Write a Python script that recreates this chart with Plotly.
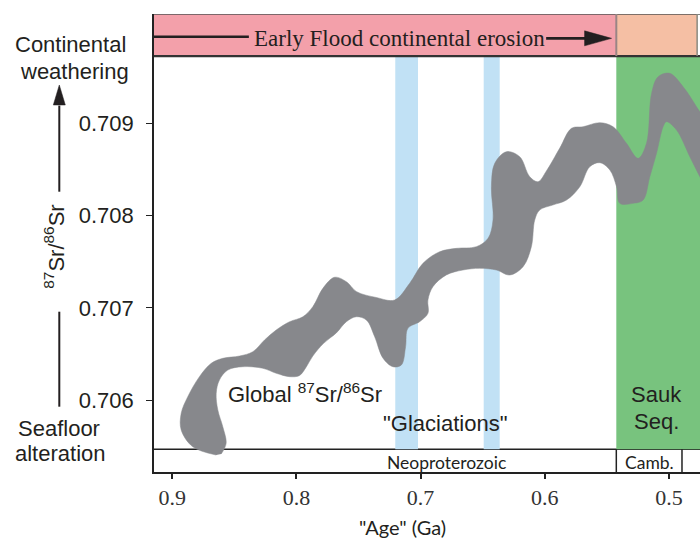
import plotly.graph_objects as go

# ---- data ----
# outline of the grey global 87Sr/86Sr band: upper edge (old -> young)
edge_upper_age = [0.8646, 0.8835, 0.8928, 0.8928, 0.8875, 0.8781, 0.8686, 0.8593, 0.8458, 0.8351,
                  0.8257, 0.8163, 0.8055, 0.7948, 0.7868, 0.7787, 0.7693, 0.7598, 0.7515, 0.7357,
                  0.7209, 0.7088, 0.6981, 0.6847, 0.6712, 0.6551, 0.6457, 0.6417, 0.6430, 0.6403,
                  0.6309, 0.6202, 0.6121, 0.6054, 0.5987, 0.5879, 0.5785, 0.5692, 0.5557, 0.5450,
                  0.5342, 0.5248, 0.5181, 0.5140, 0.5087, 0.4993, 0.4886, 0.4778, 0.4671]
edge_upper_sr = [0.705403, 0.705493, 0.705675, 0.705856, 0.706036, 0.706253, 0.706398, 0.706452, 0.706477, 0.706524,
                 0.706651, 0.706759, 0.706849, 0.706903, 0.707012, 0.707211, 0.707331, 0.707283, 0.707175, 0.707112,
                 0.707085, 0.707266, 0.707483, 0.707608, 0.707645, 0.707663, 0.707754, 0.707952, 0.708313, 0.708567,
                 0.708693, 0.708639, 0.708422, 0.708368, 0.708484, 0.708733, 0.708947, 0.708964, 0.709008, 0.708964,
                 0.708784, 0.708621, 0.708784, 0.709326, 0.709507, 0.709543, 0.709398, 0.709181, 0.708928]
# lower edge (young -> old)
edge_lower_age = [0.4671, 0.4751, 0.4832, 0.4939, 0.5020, 0.5047, 0.5100, 0.5154, 0.5208, 0.5289,
                  0.5396, 0.5422, 0.5476, 0.5557, 0.5638, 0.5718, 0.5825, 0.5936, 0.6041, 0.6081,
                  0.6108, 0.6175, 0.6282, 0.6390, 0.6524, 0.6659, 0.6793, 0.6901, 0.6941, 0.6941,
                  0.7008, 0.7102, 0.7121, 0.7155, 0.7223, 0.7304, 0.7370, 0.7437, 0.7518, 0.7598,
                  0.7679, 0.7781, 0.7868, 0.7921, 0.7975, 0.8055, 0.8163, 0.8271, 0.8432, 0.8553,
                  0.8620, 0.8646, 0.8633, 0.8593, 0.8566, 0.8606]
edge_lower_sr = [0.708223, 0.708422, 0.708639, 0.708928, 0.709018, 0.708964, 0.708676, 0.708422, 0.708169, 0.708133,
                 0.708133, 0.708313, 0.708495, 0.708574, 0.708530, 0.708313, 0.708169, 0.708115, 0.708061, 0.707952,
                 0.707663, 0.707446, 0.707356, 0.707410, 0.707428, 0.707410, 0.707356, 0.707229, 0.707085, 0.706940,
                 0.706849, 0.706778, 0.706578, 0.706380, 0.706361, 0.706456, 0.706687, 0.706868, 0.706903, 0.706849,
                 0.706727, 0.706615, 0.706477, 0.706358, 0.706266, 0.706253, 0.706290, 0.706344, 0.706361, 0.706325,
                 0.706217, 0.706073, 0.705892, 0.705710, 0.705530, 0.705414]

glaciations = [(0.7204, 0.7021), (0.6492, 0.6363)]   # Ga intervals
sauk_start = 0.5424
camb_end = 0.4895
orange_end = 0.4773

x_ticks = [0.9, 0.8, 0.7, 0.6, 0.5]
x_tick_labels = ["0.9", "0.8", "0.7", "0.6", "0.5"]
y_ticks = [0.706, 0.707, 0.708, 0.709]
y_tick_labels = ["0.706", "0.707", "0.708", "0.709"]

# ---- layout constants ----
X_RANGE = [0.9147, 0.4750]
Y_RANGE = [0.705219, 0.710187]
Y_TOPBAND = 0.709731
Y_BOTBAND = 0.705465

GREY = "#87888c"
PINK = "#f3a0aa"
ORANGE = "#f5bfa4"
GREEN = "#78c37e"
BLUE = "#c1e1f5"
DARK = "#231f20"

fig = go.Figure()
fig.add_trace(go.Scatter(
    x=edge_upper_age + edge_lower_age,
    y=edge_upper_sr + edge_lower_sr,
    fill="toself", fillcolor=GREY, mode="lines",
    line=dict(color=GREY, width=0.5, shape="spline", smoothing=1),
    hoverinfo="skip", showlegend=False))

shapes = []
for a0, a1 in glaciations:
    shapes.append(dict(type="rect", xref="x", yref="y", x0=a0, x1=a1, y0=Y_BOTBAND, y1=Y_TOPBAND,
                       fillcolor=BLUE, line=dict(width=0), layer="below"))
shapes.append(dict(type="rect", xref="x", yref="y", x0=sauk_start, x1=0.40, y0=Y_BOTBAND, y1=Y_TOPBAND,
                   fillcolor=GREEN, line=dict(width=0), layer="below"))
# top band
shapes.append(dict(type="rect", xref="x", yref="y", x0=0.95, x1=sauk_start, y0=Y_TOPBAND, y1=Y_RANGE[1],
                   fillcolor=PINK, line=dict(width=0), layer="below"))
shapes.append(dict(type="rect", xref="x", yref="y", x0=sauk_start, x1=orange_end, y0=Y_TOPBAND, y1=Y_RANGE[1],
                   fillcolor=ORANGE, line=dict(width=0), layer="below"))
shapes.append(dict(type="line", xref="paper", yref="y", x0=0, x1=1, y0=Y_RANGE[1], y1=Y_RANGE[1],
                   line=dict(color="#555555", width=1.5)))
shapes.append(dict(type="line", xref="paper", yref="y", x0=0, x1=1, y0=Y_TOPBAND, y1=Y_TOPBAND,
                   line=dict(color="#333333", width=2.2)))
shapes.append(dict(type="line", xref="x", yref="y", x0=sauk_start, x1=sauk_start, y0=Y_TOPBAND, y1=Y_RANGE[1],
                   line=dict(color="#9a8585", width=2)))
shapes.append(dict(type="line", xref="x", yref="y", x0=orange_end, x1=orange_end, y0=Y_TOPBAND, y1=Y_RANGE[1],
                   line=dict(color="#8a8a80", width=1.5)))
# bottom band
shapes.append(dict(type="line", xref="paper", yref="y", x0=0, x1=1, y0=Y_BOTBAND, y1=Y_BOTBAND,
                   line=dict(color="#222222", width=1.5), layer="below"))
for xv in (sauk_start, camb_end):
    shapes.append(dict(type="line", xref="x", yref="y", x0=xv, x1=xv, y0=Y_RANGE[0], y1=Y_BOTBAND,
                       line=dict(color="#222222", width=1.5)))
# arrow in top band
Y_ARROW = 0.709940
shapes.append(dict(type="line", xref="x", yref="y", x0=0.92, x1=0.8383, y0=Y_ARROW, y1=Y_ARROW,
                   line=dict(color=DARK, width=2.6)))
shapes.append(dict(type="line", xref="x", yref="y", x0=0.5989, x1=0.566, y0=0.709923, y1=0.709923,
                   line=dict(color=DARK, width=2.6)))
shapes.append(dict(type="path", xref="x", yref="y", xsizemode="pixel", ysizemode="pixel",
                   xanchor=0.5462, yanchor=0.709923, path="M0,0 L-27,7.5 L-27,-7.5 Z",
                   fillcolor=DARK, line=dict(color=DARK, width=0.5)))
# left side arrow and line
AX = (59.3 - 154) / 546
shapes.append(dict(type="line", xref="paper", yref="paper", x0=AX, x1=AX, y0=0.612, y1=0.80,
                   line=dict(color=DARK, width=2)))
shapes.append(dict(type="path", xref="paper", yref="paper", xsizemode="pixel", ysizemode="pixel",
                   xanchor=AX, yanchor=0.845, path="M0,0 L-6,-20 L6,-20 Z",
                   fillcolor=DARK, line=dict(color=DARK, width=0.5)))
shapes.append(dict(type="line", xref="paper", yref="paper", x0=AX, x1=AX, y0=0.1426, y1=0.35,
                   line=dict(color=DARK, width=2)))


def px_paper(px):
    return (px - 154) / 546


def py_paper(py):
    return (472 - py) / 458


SANS = "Liberation Sans, Arial, sans-serif"
SERIF = "Liberation Serif, Times New Roman, serif"
CAL = "Lato, Open Sans, sans-serif"


def ann(x, y, text, font, xref="x", yref="y", xanchor="center", **kw):
    d = dict(x=x, y=y, xref=xref, yref=yref, text=text, showarrow=False,
             xanchor=xanchor, yanchor="middle", font=font)
    d.update(kw)
    return d


F_SANS = dict(family=SANS, size=22, color=DARK)
annotations = [
    ann(0.7168, 0.709926, "Early Flood continental erosion", dict(family=SERIF, size=23, color=DARK)),
    ann(0.8566, 0.706076, "Global <sup>87</sup>Sr/<sup>86</sup>Sr", F_SANS, xanchor="left"),
    ann(0.7316, 0.70575, '"Glaciations"', F_SANS, xanchor="left"),
    ann(0.5099, 0.706065, "Sauk", F_SANS),
    ann(0.5099, 0.705765, "Seq.", F_SANS),
    ann(0.6794, py_paper(462.3), "Neoproterozoic", dict(family=CAL, size=17.5, color=DARK), yref="paper"),
    ann(0.516, py_paper(462.3), "Camb.", dict(family=CAL, size=17.5, color=DARK), yref="paper"),
    ann(0.7144, py_paper(527), '"Age" (Ga)', dict(family=CAL, size=20, color=DARK), yref="paper"),
    ann(px_paper(70.8), py_paper(44.5), "Continental", F_SANS, xref="paper", yref="paper"),
    ann(px_paper(75), py_paper(71.5), "weathering", F_SANS, xref="paper", yref="paper"),
    ann(px_paper(59), py_paper(428), "Seafloor", F_SANS, xref="paper", yref="paper"),
    ann(px_paper(60), py_paper(453.5), "alteration", F_SANS, xref="paper", yref="paper"),
    ann(px_paper(54), py_paper(246.7), "<sup>87</sup>Sr/<sup>86</sup>Sr", F_SANS, xref="paper", yref="paper",
        textangle=-90),
]

fig.update_layout(
    width=700, height=539,
    margin=dict(l=154, r=0, t=14, b=67),
    paper_bgcolor="white", plot_bgcolor="white",
    showlegend=False,
    shapes=shapes, annotations=annotations,
    xaxis=dict(range=X_RANGE, tickvals=x_ticks, ticktext=x_tick_labels, showgrid=False, zeroline=False,
               showline=True, linecolor="#222222", linewidth=1.6, ticks="outside", ticklen=5,
               tickwidth=1.5, tickcolor="#222222",
               tickfont=dict(family=SERIF, size=22, color="#333333")),
    yaxis=dict(range=Y_RANGE, tickvals=y_ticks, ticktext=y_tick_labels, showgrid=False, zeroline=False,
               showline=True, linecolor="#222222", linewidth=1.6, ticks="outside", ticklen=6,
               tickwidth=1.2, tickcolor="#222222", ticklabelstandoff=8,
               tickfont=dict(family=SANS, size=22, color=DARK)),
)

# remove the page's default body margin so the 700x539 figure fills the window exactly
fig.write_html("out.html",
               config={"displayModeBar": False},
               post_script="document.body.style.margin='0';document.body.style.overflow='hidden';")
